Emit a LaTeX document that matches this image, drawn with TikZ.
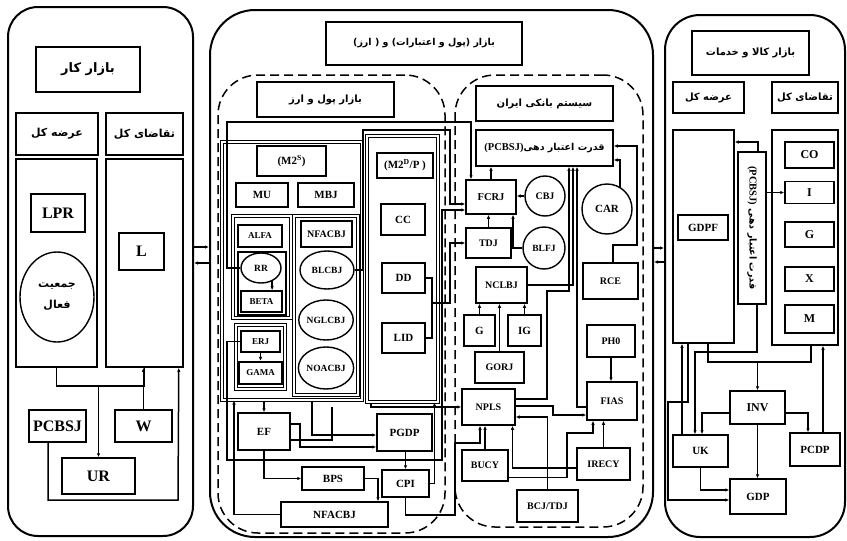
\documentclass[tikz,border=0pt]{standalone}
\usepackage{fontspec}
\setmainfont{Liberation Serif}
\newfontfamily\fafont[Script=Arabic]{DejaVu Sans}
\TeXXeTstate=1
\usetikzlibrary{arrows.meta,positioning,shapes.geometric}
\newcommand{\fatext}[1]{{\fafont\beginR #1\endR}}
\newcommand{\fs}[1]{\fontsize{#1}{#1}\selectfont}

\begin{document}
\begin{tikzpicture}[x=1pt,y=-1pt,
  bx/.style={draw,line width=1.5pt,inner sep=1pt,font=\bfseries\fs{10}},
  dbl/.style={draw,double,double distance=1.5pt,line width=1pt,inner sep=0pt},
  panel/.style={draw,line width=2pt,rounded corners=#1,inner sep=0pt},
  dsh/.style={draw,line width=1.5pt,dash pattern=on 9pt off 5pt,rounded corners=40pt,inner sep=0pt},
  oval/.style={draw,ellipse,line width=1.4pt,inner sep=0pt,fill=white,font=\bfseries\fs{9.5}},
  ring/.style={draw,circle,line width=1.4pt,inner sep=0pt,font=\bfseries\fs{10}},
  sz/.style 2 args={minimum width=#1pt,minimum height=#2pt},
  ln/.style={line width=1.5pt},
  arr/.style={ln,-{Latex[length=4pt,width=3.5pt]}}]
  \useasboundingbox (0,0) rectangle (847,541);

  % labour market
  \node[panel=30pt,sz={185}{529}] (labpanel) at (100.5,271.5) {};
  \node[bx,sz={104}{45},font=\bfseries\fs{13}] (labtitle) at (88,69.5) {\fatext{بازار کار}};
  \node[bx,sz={82}{42},font=\bfseries\fs{11}] (labsup) at (57,134) {\fatext{عرضه کل}};
  \node[bx,sz={77}{42},font=\bfseries\fs{11}] (labdem) at (144.5,134) {\fatext{تقاضای کل}};
  \node[bx,sz={81}{208}] (labsupbox) at (56.5,263) {};
  \node[bx,sz={77}{208}] (labdembox) at (144.5,263) {};
  \node[bx,sz={54}{38},font=\bfseries\fs{16}] (lpr) at (58,213) {LPR};
  \node[oval,sz={74}{90},align=center,font=\bfseries\fs{11}] (pop) at (57,297) {\fatext{جمعیت}\\[10pt]\fatext{فعال}};
  \node[bx,sz={45}{37},font=\bfseries\fs{16}] (ll) at (141.5,251.5) {L};
  \node[bx,sz={57}{32},font=\bfseries\fs{16}] (pcbsjl) at (57.5,426) {PCBSJ};
  \node[bx,sz={57}{32},font=\bfseries\fs{16}] (ww) at (143.5,426) {W};
  \node[bx,sz={73}{36},font=\bfseries\fs{16}] (ur) at (98.5,476) {UR};
  \coordinate (labjoin) at (98.5,386);
  \draw[ln] (labsupbox.south) |- (labjoin) -| (labdembox.south);
  \draw[arr] (labjoin) -- (ur.north);
  \draw[arr] (ww.north) -- (ww.north |- labdembox.south);
  \draw[arr] ([xshift=-9.5pt]pcbsjl.south) |- (178,500) -- ([xshift=-5pt]labdembox.south east);

  % money, credit and exchange market
  \node[panel=45pt,sz={443}{527}] (monpanel) at (431.5,273.5) {};
  \node[dsh,sz={227}{458}] (fxzone) at (331.5,304) {};
  \node[dsh,sz={188}{452}] (bankzone) at (549,301) {};
  \node[bx,sz={196}{43},font=\bfseries\fs{9.5}] (montitle) at (424,43.5) {\fatext{بازار (پول و اعتبارات) و ( ارز)}};
  \node[bx,sz={137}{35},font=\bfseries\fs{10}] (fxtitle) at (325.5,99.5) {\fatext{بازار پول و ارز}};
  \node[bx,sz={137}{35},font=\bfseries\fs{10}] (banktitle) at (544.5,103.5) {\fatext{سیستم بانکی ایران}};
  \node[bx,sz={137}{36},font=\bfseries\fs{9.5}] (pcbsjm) at (544.5,148) {\fatext{قدرت اعتبار دهی\beginL{\rmfamily\bfseries\fs{10.5}(PCBSJ)}\endL}};

  % money supply side
  \node[dbl,sz={140}{258}] (m2sbox) at (292,271) {};
  \node[bx,sz={69}{30},font=\bfseries\fs{11}] (m2s) at (291.5,161) {(M2\textsuperscript{S})};
  \node[bx,sz={52}{24},font=\bfseries\fs{11}] (mu) at (262,195) {MU};
  \node[bx,sz={56}{24},font=\bfseries\fs{11}] (mbj) at (326,195) {MBJ};
  \node[dbl,sz={58}{102}] (alfagrp) at (262,267) {};
  \node[bx,sz={44}{22},font=\bfseries\fs{9}] (alfa) at (260,236) {ALFA};
  \node[draw,line width=1.3pt,sz={48}{63}] (rrgrp) at (262,283.5) {};
  \node[oval,sz={40}{30},font=\bfseries\fs{9.5}] (rr) at (261,268) {RR};
  \node[bx,sz={41}{21},font=\bfseries\fs{9}] (beta) at (261.5,301.5) {BETA};
  \node[dbl,sz={49}{64}] (erjgrp) at (260.5,357) {};
  \node[bx,sz={39}{21},font=\bfseries\fs{9}] (erj) at (260.5,341.5) {ERJ};
  \node[bx,line width=2.2pt,sz={43}{22},font=\bfseries\fs{9}] (gama) at (260.5,373) {GAMA};
  \node[dbl,sz={64}{179}] (mbjgrp) at (326,305.5) {};
  \node[bx,sz={51}{26},font=\bfseries\fs{10}] (nfacbj) at (326.5,234) {NFACBJ};
  \node[oval,sz={54}{38}] (blcbj) at (327,270) {BLCBJ};
  \node[oval,sz={54}{40}] (nglcbj) at (326,320) {NGLCBJ};
  \node[oval,sz={54}{42}] (noacbj) at (326,368) {NOACBJ};
  \draw[arr] (rr.-50) -- (rr.-50 |- beta.north);
  \draw[arr] (erj.south) -- (erj.south |- gama.north);

  % money demand side
  \node[dbl,sz={71}{266}] (m2dbox) at (402.5,269) {};
  \node[bx,sz={56}{25},font=\bfseries\fs{11}] (m2d) at (405,165.5) {(M2\textsuperscript{D}/P )};
  \node[bx,sz={44}{31},font=\bfseries\fs{11}] (cc) at (403,219.5) {CC};
  \node[bx,sz={43}{30},font=\bfseries\fs{11}] (dd) at (403.5,278) {DD};
  \node[bx,sz={43}{30},font=\bfseries\fs{11}] (lid) at (403.5,338) {LID};

  % prices and exchange
  \node[bx,sz={52}{37},font=\bfseries\fs{11}] (ef) at (264,431.5) {EF};
  \node[bx,sz={55}{37},font=\bfseries\fs{11}] (pgdp) at (404.5,432.5) {PGDP};
  \node[bx,sz={62}{23},font=\bfseries\fs{11}] (bps) at (333,478.5) {BPS};
  \node[bx,sz={47}{27},font=\bfseries\fs{11}] (cpi) at (405.5,483.5) {CPI};
  \node[bx,sz={107}{25},font=\bfseries\fs{11}] (nfacbjb) at (334.5,514.5) {NFACBJ};

  % banking system
  \node[bx,sz={50}{34},font=\bfseries\fs{10.5}] (fcrj) at (491,197) {FCRJ};
  \node[ring,minimum size=40pt] (cbj) at (545,196) {CBJ};
  \node[bx,sz={45}{30}] (tdj) at (488.5,243) {TDJ};
  \node[ring,minimum size=42pt,font=\bfseries\fs{9.5}] (blfj) at (544,248) {BLFJ};
  \node[bx,sz={51}{36}] (nclbj) at (501.5,285) {NCLBJ};
  \node[bx,sz={31}{31},font=\bfseries\fs{11}] (gg) at (479.5,330.5) {G};
  \node[bx,sz={33}{31},font=\bfseries\fs{11}] (ig) at (524.5,330.5) {IG};
  \node[bx,sz={49}{31}] (gorj) at (499.5,367.5) {GORJ};
  \node[ring,minimum size=50pt,font=\bfseries\fs{11}] (car) at (607,209) {CAR};
  \node[bx,sz={55}{36}] (rce) at (610.5,281) {RCE};
  \node[bx,sz={48}{32}] (ph0) at (611,341) {PH0};
  \node[bx,sz={50}{38}] (fias) at (612,401) {FIAS};
  \node[bx,sz={53}{36}] (npls) at (488.5,407) {NPLS};
  \node[bx,sz={46}{31}] (bucy) at (485,465.5) {BUCY};
  \node[bx,sz={53}{32}] (irecy) at (603.5,464) {IRECY};
  \node[bx,sz={61}{32}] (bcjtdj) at (547.5,506) {BCJ/TDJ};

  % links from the money market into the banks
  \draw[arr] (m2sbox.south -| ef.north) -- (ef.north);
  \draw[arr] (rr.west) -| (227,122) -| ([xshift=-20pt]fcrj.north);
  \draw[arr] (blcbj.east) -| (363,130) -| (450,204) -- ([yshift=-7pt]fcrj.west);
  \draw[arr] (erj.west) -| (227,460) -| (442,210) -- ([yshift=-13pt]fcrj.west);
  \draw[ln] (lid.east) -| (432,303);
  \draw[arr] (dd.east) -| (432,303) -| (450,243) -- (tdj.west);
  \draw[arr] ([xshift=-31.5pt]m2dbox.south) |- (npls.west);
  \draw[ln] ([yshift=-8.5pt]ef.east) -| (332,407);
  \draw[arr] ([yshift=7.5pt]ef.east) -| (300,447) -- ([yshift=-14.5pt]pgdp.west);
  \draw[arr] ([xshift=20pt]m2sbox.south) |- ([yshift=-2.5pt]pgdp.west);
  \draw[arr] (pgdp.south -| cpi.north) -- (cpi.north);
  \draw[arr] (ef.south) |- (bps.west);
  \draw[arr] (bps.east) -| ([xshift=43.5pt]nfacbjb.north);
  \draw[arr] (nfacbjb.west) -| ([xshift=-58pt]m2sbox.south);
  \draw[arr] (cpi.east) -| ([xshift=32pt]m2dbox.south);
  \draw[arr] (cpi.south) |- (455,515) |- (480,443) -- ([xshift=-8.5pt]npls.south);

  % links inside the banks
  \draw[arr] (fcrj.north) -- (fcrj.north |- pcbsjm.south);
  \draw[arr] (tdj.north) -- (tdj.north |- fcrj.south);
  \draw[arr] (cbj.west) -- (cbj.west -| fcrj.east);
  \draw[arr] (blfj.west) -| ([xshift=22pt]fcrj.south);
  \draw[arr] (nclbj.east) -| ([xshift=28.5pt]pcbsjm.south);
  \draw[arr] ([yshift=8pt]npls.east) -| (547,291) -| ([xshift=24.5pt]pcbsjm.south);
  \draw[arr] ([yshift=-6pt]fias.west) -| ([xshift=32.5pt]pcbsjm.south);
  \draw[arr] (car.60) |- ([yshift=-12pt]pcbsjm.east);
  \draw[arr] ([xshift=2.5pt]rce.north) |- (637,245) |- ([yshift=2pt]pcbsjm.east);
  \draw[arr] (gg.north) -- (gg.north |- nclbj.south);
  \draw[arr] (ig.north) -- (ig.north |- nclbj.south);
  \draw[arr] (gorj.north) -- (gorj.north |- nclbj.south);
  \draw[arr] (ph0.south) -- (ph0.south |- fias.north);
  \draw[arr] ([yshift=1pt]npls.east) -| (553,415) -- ([yshift=-14pt]fias.west);
  \draw[arr] (bcjtdj.north) |- ([yshift=-10pt]npls.east);
  \draw[arr] (bucy.north) -- (bucy.north |- npls.south);
  \draw[arr] (irecy.north) -- (irecy.north |- fias.south);
  \draw[arr] ([yshift=-4pt]irecy.west) -| ([xshift=24pt]npls.south);
  \draw[arr] ([yshift=-12pt]bucy.east) -| (567,433) -| ([xshift=-19pt]fias.south);

  % goods and services market
  \node[panel=35pt,sz={180}{522}] (goodspanel) at (755,276) {};
  \node[bx,sz={117}{44},font=\bfseries\fs{10}] (gtitle) at (750.5,53) {\fatext{بازار کالا و خدمات}};
  \node[bx,sz={71}{31},font=\bfseries\fs{10}] (gsup) at (708.5,97.5) {\fatext{عرضه کل}};
  \node[bx,sz={66}{31},font=\bfseries\fs{10}] (gdem) at (805,97.5) {\fatext{تقاضای کل}};
  \node[bx,sz={61}{213}] (gsupbox) at (703.5,236.5) {};
  \node[bx,sz={50}{25},font=\bfseries\fs{11}] (gdpf) at (703,227.5) {GDPF};
  \node[bx,sz={28}{152}] (pcbsjv) at (752,228) {};
  \node[rotate=-90,inner sep=0pt,font=\bfseries\fs{9.5}] (pcbsjvtext) at (pcbsjv.center) {\fatext{قدرت اعتبار دهی \beginL{\rmfamily\bfseries\fs{10.5}(PCBSJ)}\endL}};
  \node[bx,sz={66}{215}] (gdembox) at (805,237.5) {};
  \node[bx,sz={49}{26},font=\bfseries\fs{12}] (co) at (809.5,155) {CO};
  \node[bx,sz={49}{22},font=\bfseries\fs{12}] (ii) at (809.5,192.5) {I};
  \node[bx,sz={49}{25},font=\bfseries\fs{12}] (gv) at (809.5,234.5) {G};
  \node[bx,sz={49}{24},font=\bfseries\fs{12}] (xx) at (809.5,279) {X};
  \node[bx,sz={49}{28},font=\bfseries\fs{12}] (mm) at (809.5,319) {M};
  \node[bx,sz={55}{33},font=\bfseries\fs{12}] (inv) at (757.5,407.5) {INV};
  \node[bx,sz={55}{32},font=\bfseries\fs{11}] (uk) at (700.5,451) {UK};
  \node[bx,sz={50}{33},font=\bfseries\fs{11}] (pcdp) at (815,449.5) {PCDP};
  \node[bx,sz={56}{35},font=\bfseries\fs{11}] (gdp) at (758,496.5) {GDP};
  \coordinate (gjoin) at (757.5,362);
  \draw[arr] ([xshift=6pt]pcbsjv.north) |- ([yshift=94.5pt]gsupbox.east);
  \draw[arr] (pcbsjv.east |- ii.west) -- (ii.west);
  \draw[arr] ([xshift=5pt]pcbsjv.south) |- (695,352) -- ([xshift=-5.5pt]uk.north);
  \draw[ln] ([xshift=4.5pt]gsupbox.south) |- (gjoin) -| ([xshift=6pt]gdembox.south);
  \draw[arr] (gjoin) -- (inv.north);
  \draw[arr] ([yshift=-5.5pt]inv.west) -| ([xshift=1.5pt]uk.north);
  \draw[arr] ([yshift=-5.5pt]inv.east) -| ([xshift=-7pt]pcdp.north);
  \draw[arr] (inv.south) -- (inv.south |- gdp.north);
  \draw[arr] ([xshift=8pt]pcdp.north) -- ([xshift=18pt]gdembox.south);
  \draw[arr] (uk.south) |- ([yshift=6.5pt]gdp.west);
  \draw[arr] ([xshift=-18.5pt]uk.north) -- ([xshift=-21.5pt]gsupbox.south);
  \draw[arr] ([xshift=-15.5pt]gsupbox.south) |- (668,402) |- ([yshift=-3.5pt]gdp.west);

  % links between the markets
  \draw[arr] ([yshift=24.5pt]labpanel.east) -- ([yshift=26.5pt]monpanel.west);
  \draw[arr] ([yshift=10.5pt]monpanel.west) -- ([yshift=8.5pt]labpanel.east);
  \draw[arr] ([yshift=25.5pt]monpanel.east) -- ([yshift=28pt]goodspanel.west);
  \draw[arr] ([yshift=14pt]goodspanel.west) -- ([yshift=11.5pt]monpanel.east);
\end{tikzpicture}
\end{document}
